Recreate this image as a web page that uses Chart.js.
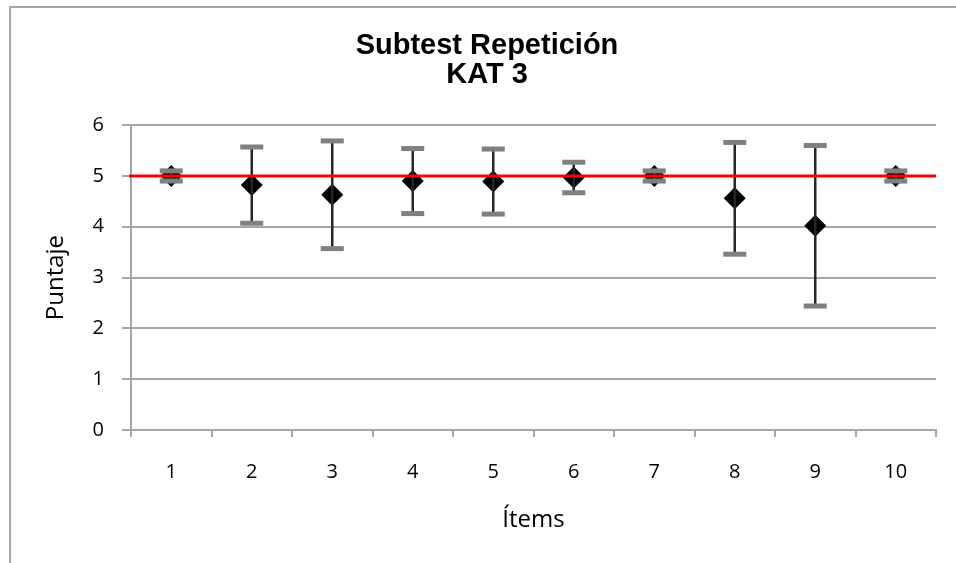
<!DOCTYPE html>
<html>
<head>
<meta charset="utf-8">
<script src="https://cdn.jsdelivr.net/npm/chart.js@4/dist/chart.umd.min.js"></script>
<style>
    body { margin: 0; background: #fff; }
    #contenedor { position: relative; width: 956px; height: 563px; overflow: hidden; }
    #marco { position: absolute; left: 9px; top: 6px; width: 970px; height: 580px; border: 2px solid #a6a6a6; pointer-events: none; }
</style>
</head>
<body>
<div id="contenedor">
    <canvas id="grafico" width="956" height="563"></canvas>
    <div id="marco"></div>
</div>
<script>
const items = ['1', '2', '3', '4', '5', '6', '7', '8', '9', '10'];
const medias = [5, 4.82, 4.63, 4.9, 4.89, 4.97, 5, 4.56, 4.02, 5];
const desviaciones = [0.1, 0.75, 1.06, 0.64, 0.64, 0.3, 0.1, 1.1, 1.58, 0.1];
const valorReferencia = 5;
const ticksY = [0, 1, 2, 3, 4, 5, 6];

const gris = '#a6a6a6';

// barras de error (media +/- desviacion) y linea de referencia en 5
const barrasError = {
    id: 'barrasError',
    afterDatasetsDraw(chart) {
        const { ctx, chartArea, scales: { y } } = chart;
        const meta = chart.getDatasetMeta(0);
        ctx.save();
        meta.data.forEach((punto, i) => {
            const x = punto.x;
            const yArriba = y.getPixelForValue(medias[i] + desviaciones[i]);
            const yAbajo = y.getPixelForValue(medias[i] - desviaciones[i]);
            ctx.strokeStyle = '#262626';
            ctx.lineWidth = 2.5;
            ctx.beginPath();
            ctx.moveTo(x, yArriba);
            ctx.lineTo(x, yAbajo);
            ctx.stroke();
            ctx.fillStyle = '#808080';
            ctx.fillRect(x - 11.5, yArriba - 2.5, 23, 5);
            ctx.fillRect(x - 11.5, yAbajo - 2.5, 23, 5);
        });
        const yRef = y.getPixelForValue(valorReferencia);
        ctx.strokeStyle = '#ff0000';
        ctx.lineWidth = 3;
        ctx.beginPath();
        ctx.moveTo(chartArea.left - 2, yRef);
        ctx.lineTo(chartArea.right, yRef);
        ctx.stroke();
        ctx.restore();
    }
};

const ctx = document.getElementById('grafico').getContext('2d');
new Chart(ctx, {
    type: 'line',
    data: {
        labels: items,
        datasets: [{
            label: 'Media',
            data: medias,
            showLine: false,
            pointStyle: 'rectRot',
            pointRadius: 11,
            pointHoverRadius: 11,
            pointBackgroundColor: '#000',
            pointBorderColor: '#000',
            pointBorderWidth: 0
        }]
    },
    options: {
        responsive: false,
        animation: false,
        layout: { padding: { left: 38, right: 20, top: 0, bottom: 0 } },
        plugins: {
            legend: { display: false },
            tooltip: { enabled: false },
            title: {
                display: true,
                text: ['Subtest Repetición', 'KAT 3'],
                color: '#000',
                font: { family: "'Liberation Sans', Arial, sans-serif", size: 29, weight: 'bold', lineHeight: 1.02 },
                padding: { top: 31, bottom: 35 }
            }
        },
        scales: {
            x: {
                offset: true,
                afterFit: scale => { scale.height = 133; },
                grid: { display: true, drawOnChartArea: false, offset: true, tickLength: 7, color: gris, lineWidth: 2 },
                border: { color: gris, width: 2 },
                ticks: { color: '#000', padding: 23, font: { family: "'Open Sans', sans-serif", size: 20 } },
                title: {
                    display: true,
                    text: 'Ítems',
                    color: '#000',
                    font: { family: "'Open Sans', sans-serif", size: 24 },
                    padding: { top: 0, bottom: 28 }
                }
            },
            y: {
                min: 0,
                max: 6,
                afterFit: scale => { scale.width = 93; },
                afterBuildTicks: scale => { scale.ticks = ticksY.map(v => ({ value: v })); },
                grid: { color: gris, lineWidth: 2, tickLength: 9 },
                border: { color: gris, width: 2 },
                ticks: { color: '#000', padding: 18, font: { family: "'Open Sans', sans-serif", size: 20 } },
                title: {
                    display: true,
                    text: 'Puntaje',
                    color: '#000',
                    font: { family: "'Open Sans', sans-serif", size: 24 },
                    padding: { top: 4, bottom: 0 }
                }
            }
        }
    },
    plugins: [barrasError]
});
</script>
</body>
</html>
